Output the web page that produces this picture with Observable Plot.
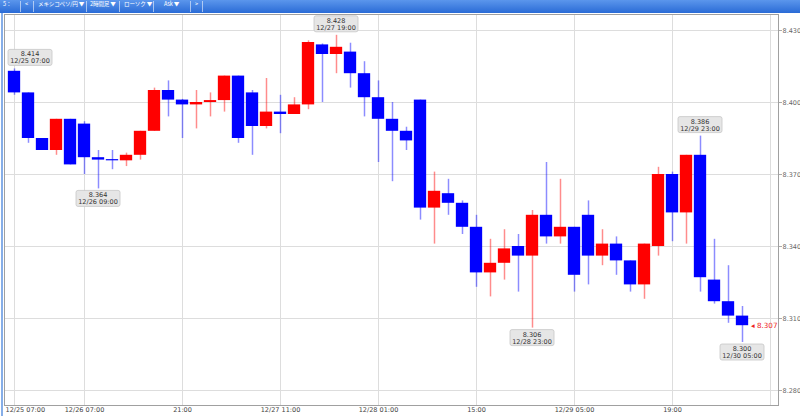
<!DOCTYPE html>
<html><head><meta charset="utf-8">
<script src="https://cdn.jsdelivr.net/npm/d3@7"></script>
<script src="https://cdn.jsdelivr.net/npm/@observablehq/plot@0.6"></script>
<style>
html,body{margin:0;padding:0;background:#fff;}
body{width:800px;height:416px;overflow:hidden;position:relative;font-family:"DejaVu Sans",sans-serif;}
#bar{position:absolute;left:0;top:0;width:800px;height:13px;background:linear-gradient(#5b96ec,#2a6bd6);}
#bar span{position:absolute;top:0;height:13px;line-height:13px;font:5.6px "Noto Sans CJK JP","DejaVu Sans",sans-serif;color:#fff;white-space:nowrap;letter-spacing:-0.2px;}
#bar i{position:absolute;top:1px;width:1px;height:11px;background:rgba(255,255,255,0.55);}
#edge{position:absolute;left:1px;top:13px;width:2px;height:403px;background:#86aee8;}
#chart{position:absolute;left:0;top:13px;}
</style></head>
<body>
<div id="bar">
  <span style="left:3px">5：</span><i style="left:20px"></i>
  <span style="left:25px">&lt;</span><i style="left:33px"></i>
  <span style="left:38px">メキシコペソ/円 ▼</span><i style="left:86px"></i>
  <span style="left:90px">2時間足 ▼</span><i style="left:119px"></i>
  <span style="left:124px">ローソク ▼</span><i style="left:153px"></i>
  <span style="left:164px">Ask ▼</span><i style="left:190px"></i>
  <span style="left:195px">&gt;</span><i style="left:202px"></i>
</div>
<div id="chart"></div>
<div id="edge"></div>
<script>
// ---- data (2-hour candles, MXN/JPY) ----
const opens  = [8.413,8.404,8.385,8.380,8.393,8.391,8.377,8.3762,8.3757,8.378,8.388,8.405,8.401,8.399,8.400,8.4008,8.411,8.404,8.390,8.396,8.395,8.399,8.424,8.420,8.421,8.412,8.402,8.393,8.388,8.401,8.356,8.362,8.358,8.348,8.329,8.333,8.340,8.336,8.353,8.344,8.348,8.353,8.336,8.341,8.334,8.324,8.340,8.370,8.354,8.378,8.326,8.317,8.311];
const highs  = [8.414,8.404,8.385,8.393,8.393,8.392,8.380,8.380,8.3789,8.388,8.406,8.409,8.4013,8.405,8.404,8.411,8.411,8.405,8.410,8.403,8.402,8.4257,8.4244,8.428,8.4247,8.417,8.409,8.400,8.3897,8.401,8.371,8.368,8.359,8.353,8.343,8.347,8.345,8.355,8.375,8.368,8.348,8.359,8.347,8.344,8.334,8.341,8.373,8.371,8.378,8.386,8.343,8.332,8.315];
const lows   = [8.403,8.383,8.380,8.378,8.374,8.370,8.364,8.372,8.3733,8.376,8.388,8.394,8.385,8.389,8.394,8.396,8.383,8.378,8.389,8.387,8.395,8.397,8.400,8.412,8.406,8.394,8.375,8.367,8.380,8.351,8.341,8.353,8.345,8.323,8.319,8.326,8.321,8.306,8.341,8.341,8.321,8.324,8.332,8.328,8.321,8.318,8.336,8.342,8.341,8.321,8.316,8.308,8.300];
const closes = [8.404,8.385,8.380,8.393,8.374,8.377,8.376,8.3757,8.378,8.388,8.405,8.401,8.399,8.400,8.4008,8.411,8.385,8.390,8.396,8.395,8.399,8.425,8.420,8.423,8.412,8.402,8.393,8.388,8.384,8.356,8.363,8.358,8.348,8.329,8.333,8.339,8.336,8.353,8.344,8.348,8.328,8.336,8.341,8.334,8.324,8.341,8.370,8.354,8.378,8.327,8.317,8.311,8.307];

const yTicks = [8.280, 8.310, 8.340, 8.370, 8.400, 8.430];
const xGrid = [0, 5, 12, 19, 26, 33, 40, 47, 54];
const xTickIdx = [5, 12, 19, 26, 33, 40, 47];
const xTickLabels = ["12/26 07:00", "21:00", "12/27 11:00", "12/28 01:00", "15:00", "12/29 05:00", "19:00"];
const firstTickIdx = [0];
const firstTickLabel = ["12/25 07:00"];

const annIdx   = [0, 23, 6, 37, 49, 52];
const annPrice = ["8.414", "8.428", "8.364", "8.306", "8.386", "8.300"];
const annTime  = ["12/25 07:00", "12/27 19:00", "12/26 09:00", "12/28 23:00", "12/29 23:00", "12/30 05:00"];
const annSide  = ["above", "above", "below", "below", "above", "below"];

const lastPrice = [8.307];

// ---- build table ----
const candles = opens.map((o, i) => ({i, open: o, high: highs[i], low: lows[i], close: closes[i], up: closes[i] >= o}));
const UP = "#ff0000", DOWN = "#0000ff";
const half = 0.44;

const svg = Plot.plot({
  width: 800, height: 403,
  marginLeft: 4, marginRight: 22, marginTop: 1, marginBottom: 11,
  x: {domain: [-10/14, 764/14], axis: null},
  y: {domain: [8.27375, 8.436667], axis: null},
  style: {fontFamily: "DejaVu Sans, sans-serif", fontSize: "6.5px", background: "#fff", overflow: "visible"},
  marks: [
    Plot.ruleY(yTicks, {stroke: "#dddddd", strokeWidth: 1}),
    Plot.ruleX(xGrid, {stroke: "#dddddd", strokeWidth: 1}),
    Plot.frame({stroke: "#a0a0a0"}),
    Plot.ruleX(candles, {x: "i", y1: "low", y2: "high", stroke: d => d.up ? UP : DOWN, strokeOpacity: 0.45, strokeWidth: 1.5}),
    Plot.rect(candles, {x1: d => d.i - half, x2: d => d.i + half, y1: "open", y2: "close", fill: d => d.up ? UP : DOWN}),
    Plot.axisY(yTicks, {anchor: "right", tickFormat: d3.format(".3f"), tickSize: 3, tickPadding: 1, fill: "#666", stroke: "#aaa", fontSize: 6.5}),
    Plot.text(xTickIdx, {x: d => d, text: (d, j) => xTickLabels[j], frameAnchor: "bottom", dy: 6, fill: "#444", fontSize: 6.5}),
    Plot.text(firstTickIdx, {x: d => d, text: (d, j) => firstTickLabel[j], frameAnchor: "bottom", textAnchor: "start", dx: -9, dy: 6, fill: "#444", fontSize: 6.5}),
    Plot.text(lastPrice, {y: d => d, text: d => "◂ " + d3.format(".3f")(d), frameAnchor: "right", textAnchor: "end", dx: -1, fill: "#ee2222", fontSize: 7.2})
  ]
});

document.getElementById("chart").appendChild(svg);

// ---- annotation boxes placed through Plot's scales ----
const sx = svg.scale("x"), sy = svg.scale("y");
const g = d3.select(svg).append("g").attr("font-family", "DejaVu Sans, sans-serif").attr("font-size", 6.5);
annIdx.forEach((idx, k) => {
  const c = candles[idx];
  const cx = sx.apply(idx);
  const w = 44, h = 16;
  const yy = annSide[k] === "above" ? sy.apply(c.high) : sy.apply(c.low);
  let bx = cx - w / 2;
  bx = Math.max(8, bx);
  const by = annSide[k] === "above" ? yy - 3 - h : yy + 2;
  g.append("rect").attr("x", bx).attr("y", by).attr("width", w).attr("height", h)
    .attr("rx", 2).attr("fill", "#e6e6e6").attr("stroke", "#c6c6c6").attr("stroke-width", 0.8);
  g.append("text").attr("x", bx + w / 2).attr("y", by + 7).attr("text-anchor", "middle").attr("fill", "#333").text(annPrice[k]);
  g.append("text").attr("x", bx + w / 2).attr("y", by + 14).attr("text-anchor", "middle").attr("fill", "#333").text(annTime[k]);
});
</script>
</body></html>
